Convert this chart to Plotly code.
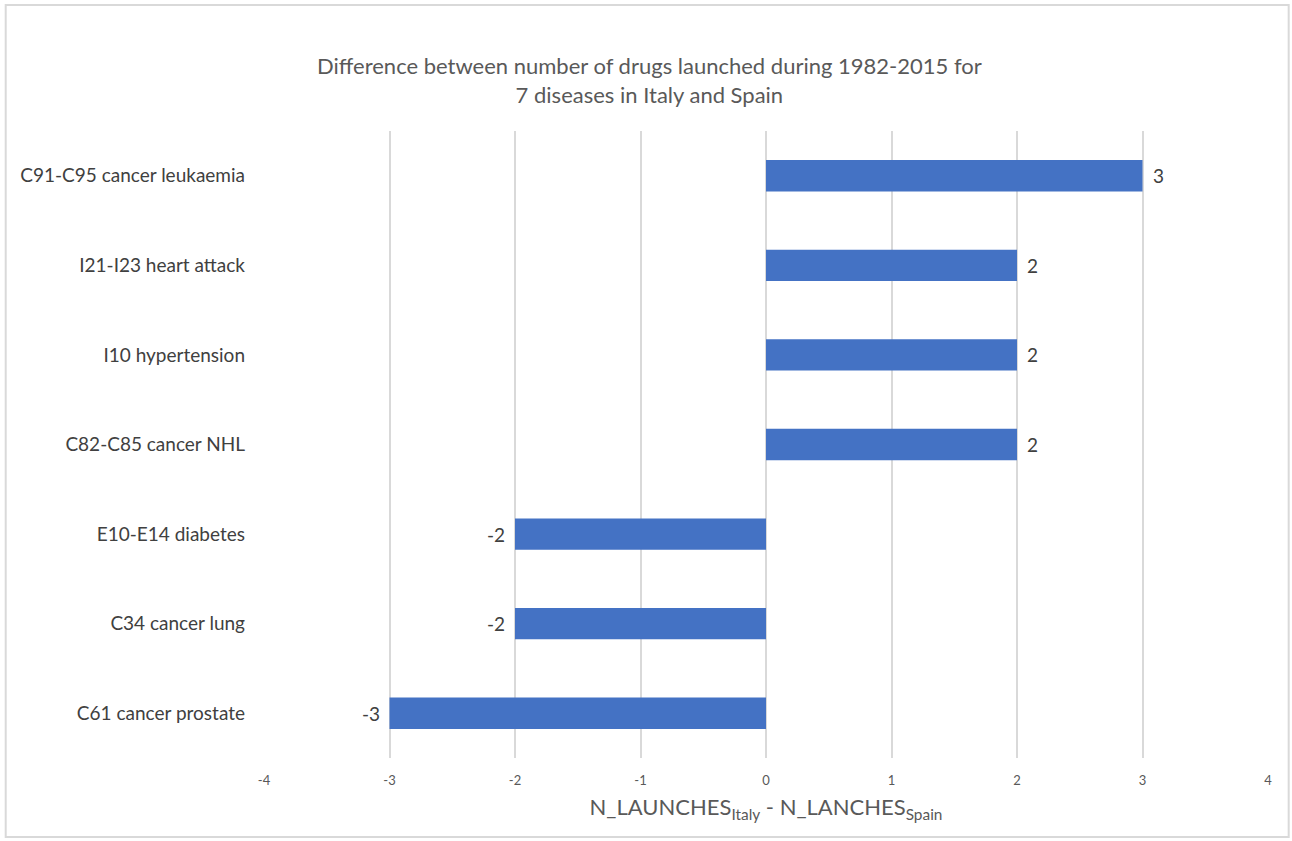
import plotly.graph_objects as go

# Diseases (top to bottom) and launch differences Italy - Spain
diseases = [
    "C91-C95 cancer leukaemia",
    "I21-I23 heart attack",
    "I10 hypertension",
    "C82-C85 cancer NHL",
    "E10-E14 diabetes",
    "C34 cancer lung",
    "C61 cancer prostate",
]
differences = [3, 2, 2, 2, -2, -2, -3]
x_ticks = [-4, -3, -2, -1, 0, 1, 2, 3, 4]

W, H = 1292, 841
L, R, T, B = 263.5, 23.7, 131, 83
pw, ph = W - L - R, H - T - B


def px_x(p):
    return (p - L) / pw


def px_y(p):
    return (H - B - p) / ph


FONT = "Lato"

fig = go.Figure(
    go.Bar(
        x=differences,
        y=diseases,
        orientation="h",
        marker=dict(color="#4472C4", line=dict(width=0)),
        width=0.35,
        hoverinfo="x+y",
    )
)

# value labels placed just beyond each bar end
value_labels = [
    dict(
        x=v,
        y=d,
        xref="x",
        yref="y",
        text=str(v),
        showarrow=False,
        xanchor="left" if v >= 0 else "right",
        yanchor="middle",
        xshift=8 if v >= 0 else -8,
        font=dict(family=FONT, size=19, color="#404040"),
    )
    for d, v in zip(diseases, differences)
]

fig.update_layout(
    width=W,
    height=H,
    margin=dict(l=L, r=R, t=T, b=B),
    paper_bgcolor="white",
    plot_bgcolor="white",
    showlegend=False,
    font=dict(family=FONT, color="#595959"),
    xaxis=dict(
        range=[-4, 4],
        tickvals=x_ticks,
        ticktext=[str(v) for v in x_ticks],
        showgrid=True,
        gridcolor="#d9d9d9",
        gridwidth=2,
        zeroline=True,
        zerolinecolor="#d9d9d9",
        zerolinewidth=2,
        showline=False,
        ticks="",
        tickfont=dict(family=FONT, size=13, color="#595959"),
        ticklabelstandoff=13,
        title=dict(
            text="N_LAUNCHES<sub>Italy</sub> - N_LANCHES<sub>Spain</sub>",
            font=dict(family=FONT, size=22, color="#595959"),
            standoff=12,
        ),
    ),
    yaxis=dict(
        autorange="reversed",
        showgrid=False,
        zeroline=False,
        showline=False,
        ticks="",
        tickfont=dict(family=FONT, size=19, color="#404040"),
        ticklabelstandoff=18,
    ),
    shapes=[
        dict(
            type="rect",
            xref="paper",
            yref="paper",
            x0=px_x(5),
            x1=px_x(1289),
            y0=px_y(837),
            y1=px_y(5),
            line=dict(color="#d9d9d9", width=2),
            fillcolor="rgba(0,0,0,0)",
            layer="below",
        )
    ],
    annotations=value_labels
    + [
        dict(
            text="Difference between number of drugs launched during 1982-2015 for<br>7 diseases in Italy and Spain",
            xref="paper",
            yref="paper",
            x=px_x(649),
            y=px_y(80),
            xanchor="center",
            yanchor="middle",
            showarrow=False,
            font=dict(family=FONT, size=22, color="#595959"),
        )
    ],
)

fig.write_html("out.html")
